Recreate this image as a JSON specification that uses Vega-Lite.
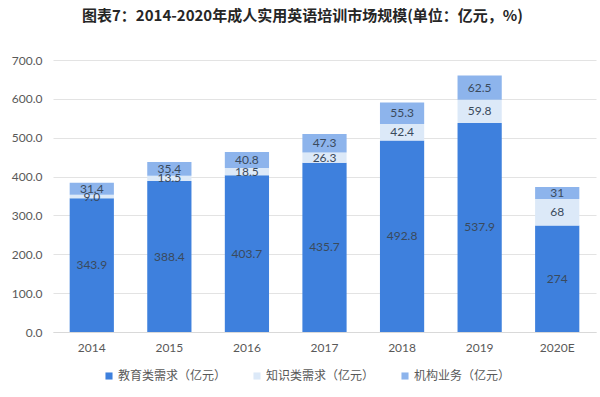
{
  "$schema": "https://vega.github.io/schema/vega-lite/v6.json",
  "autosize": {"type": "none"},
  "width": 543,
  "height": 272,
  "padding": {"left": 53, "top": 60, "right": 4, "bottom": 65},
  "background": "white",
  "title": {
    "text": "图表7：2014-2020年成人实用英语培训市场规模(单位：亿元，%)",
    "font": "Noto Sans CJK SC",
    "fontSize": 15,
    "fontWeight": "bold",
    "color": "#262626",
    "anchor": "middle",
    "dx": -22,
    "offset": 30
  },
  "data": {
    "values": [
      {"year": "2014", "series": "教育类需求（亿元）", "ord": 1, "value": 343.9, "label": "343.9"},
      {"year": "2014", "series": "知识类需求（亿元）", "ord": 2, "value": 9.0, "label": "9.0"},
      {"year": "2014", "series": "机构业务（亿元）", "ord": 3, "value": 31.4, "label": "31.4"},
      {"year": "2015", "series": "教育类需求（亿元）", "ord": 1, "value": 388.4, "label": "388.4"},
      {"year": "2015", "series": "知识类需求（亿元）", "ord": 2, "value": 13.5, "label": "13.5"},
      {"year": "2015", "series": "机构业务（亿元）", "ord": 3, "value": 35.4, "label": "35.4"},
      {"year": "2016", "series": "教育类需求（亿元）", "ord": 1, "value": 403.7, "label": "403.7"},
      {"year": "2016", "series": "知识类需求（亿元）", "ord": 2, "value": 18.5, "label": "18.5"},
      {"year": "2016", "series": "机构业务（亿元）", "ord": 3, "value": 40.8, "label": "40.8"},
      {"year": "2017", "series": "教育类需求（亿元）", "ord": 1, "value": 435.7, "label": "435.7"},
      {"year": "2017", "series": "知识类需求（亿元）", "ord": 2, "value": 26.3, "label": "26.3"},
      {"year": "2017", "series": "机构业务（亿元）", "ord": 3, "value": 47.3, "label": "47.3"},
      {"year": "2018", "series": "教育类需求（亿元）", "ord": 1, "value": 492.8, "label": "492.8"},
      {"year": "2018", "series": "知识类需求（亿元）", "ord": 2, "value": 42.4, "label": "42.4"},
      {"year": "2018", "series": "机构业务（亿元）", "ord": 3, "value": 55.3, "label": "55.3"},
      {"year": "2019", "series": "教育类需求（亿元）", "ord": 1, "value": 537.9, "label": "537.9"},
      {"year": "2019", "series": "知识类需求（亿元）", "ord": 2, "value": 59.8, "label": "59.8"},
      {"year": "2019", "series": "机构业务（亿元）", "ord": 3, "value": 62.5, "label": "62.5"},
      {"year": "2020E", "series": "教育类需求（亿元）", "ord": 1, "value": 274, "label": "274"},
      {"year": "2020E", "series": "知识类需求（亿元）", "ord": 2, "value": 68, "label": "68"},
      {"year": "2020E", "series": "机构业务（亿元）", "ord": 3, "value": 31, "label": "31"}
    ]
  },
  "transform": [
    {"stack": "value", "groupby": ["year"], "sort": [{"field": "ord", "order": "ascending"}], "as": ["v0", "v1"]},
    {"calculate": "(datum.v0 + datum.v1) / 2", "as": "mid"}
  ],
  "encoding": {
    "x": {
      "field": "year",
      "type": "nominal",
      "sort": null,
      "scale": {"paddingInner": 0.43, "paddingOuter": 0.215},
      "axis": {
        "title": null,
        "labelAngle": 0,
        "labelFont": "Lato, Noto Sans CJK SC",
        "labelFontSize": 12,
        "labelColor": "#595959",
        "labelPadding": 10,
        "ticks": false,
        "domainColor": "#D9D9D9",
        "grid": false
      }
    }
  },
  "layer": [
    {
      "mark": {"type": "bar"},
      "encoding": {
        "y": {
          "field": "v0",
          "type": "quantitative",
          "scale": {"domain": [0, 700], "nice": false},
          "axis": {
            "title": null,
            "values": [0, 100, 200, 300, 400, 500, 600, 700],
            "format": ".1f",
            "labelFont": "Lato, Noto Sans CJK SC",
            "labelFontSize": 12,
            "labelColor": "#595959",
            "labelPadding": 11,
            "labelOverlap": false,
            "ticks": false,
            "domain": false,
            "grid": true,
            "gridColor": "#E3E3E3"
          }
        },
        "y2": {"field": "v1"},
        "color": {
          "field": "series",
          "type": "nominal",
          "scale": {
            "domain": ["教育类需求（亿元）", "知识类需求（亿元）", "机构业务（亿元）"],
            "range": ["#3E80DD", "#DCE9F8", "#8DB4EC"]
          },
          "legend": {
            "title": null,
            "orient": "none",
            "direction": "horizontal",
            "legendX": 50,
            "legendY": 310,
            "symbolType": "square",
            "symbolSize": 50,
            "symbolStrokeWidth": 0,
            "labelFont": "Noto Sans CJK SC",
            "labelFontSize": 12,
            "labelColor": "#595959",
            "labelOffset": 3,
            "columnPadding": 24
          }
        }
      }
    },
    {
      "mark": {"type": "text", "font": "Lato, Noto Sans CJK SC", "fontSize": 12, "color": "#3A4A5C", "baseline": "middle"},
      "encoding": {
        "y": {
          "field": "mid",
          "type": "quantitative",
          "axis": {
            "title": null,
            "values": [0, 100, 200, 300, 400, 500, 600, 700],
            "format": ".1f",
            "labelFont": "Lato, Noto Sans CJK SC",
            "labelFontSize": 12,
            "labelColor": "#595959",
            "labelPadding": 11,
            "labelOverlap": false,
            "ticks": false,
            "domain": false,
            "grid": true,
            "gridColor": "#E3E3E3"
          }
        },
        "text": {"field": "label", "type": "nominal"}
      }
    }
  ],
  "config": {
    "view": {"stroke": null}
  }
}
